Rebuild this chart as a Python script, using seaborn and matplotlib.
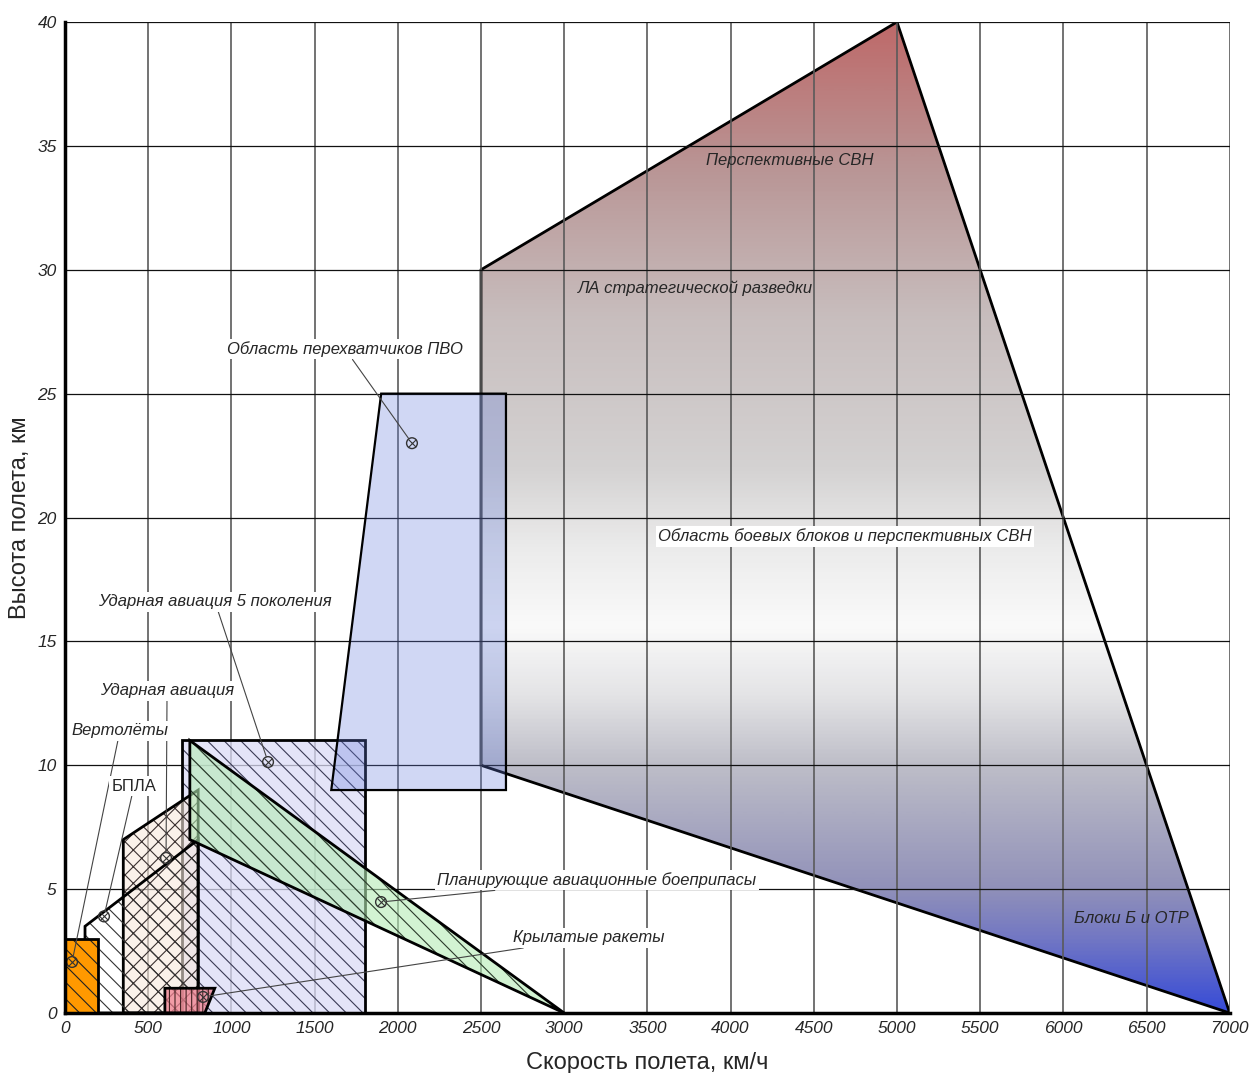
import matplotlib
matplotlib.use("Agg")
import matplotlib.pyplot as plt
import seaborn as sns
import numpy as np
import pandas as pd
from matplotlib.patches import Polygon
from matplotlib.colors import LinearSegmentedColormap

sns.set_style("white")
plt.rcParams["font.family"] = ["Liberation Sans", "DejaVu Sans"]
plt.rcParams["hatch.linewidth"] = 0.8

# polygons: (speed km/h, altitude km)
svn_x = [2500, 2500, 5000, 7000]
svn_y = [10, 30, 40, 0]
pvo_x = [1600, 1900, 2650, 2650]
pvo_y = [9, 25, 25, 9]
strike5_x = [700, 700, 1800, 1800]
strike5_y = [0, 11, 11, 0]
strike_x = [350, 350, 800, 800]
strike_y = [0, 7, 9, 0]
uav_x = [120, 120, 800, 800]
uav_y = [0, 3.5, 7, 0]
glide_x = [750, 3000, 750]
glide_y = [11, 0, 7]
heli_x = [0, 0, 200, 200]
heli_y = [0, 3, 3, 0]
cruise_x = [600, 600, 900, 840]
cruise_y = [0, 1, 1, 0]

# labels and their pointer targets
labels = ["Перспективные СВН", "ЛА стратегической разведки",
          "Область перехватчиков ПВО", "Область боевых блоков и перспективных СВН",
          "Ударная авиация 5 поколения", "Ударная авиация", "Вертолёты", "БПЛА",
          "Планирующие авиационные боеприпасы", "Крылатые ракеты", "Блоки Б и ОТР"]
label_x = [4357, 3786, 1683, 4688, 901, 613, 330, 415, 2236, 2692, 6406]
label_y = [34.4, 29.26, 26.8, 19.25, 16.6, 13.0, 11.4, 9.16, 5.37, 3.03, 3.83]
target_x = [None, None, 2085, None, 1220, 607, 42, 234, 1899, 829, None]
target_y = [None, None, 23.0, None, 10.13, 6.26, 2.06, 3.9, 4.48, 0.65, None]

fig = plt.figure(figsize=(12.51, 10.73), dpi=100)
ax = fig.add_axes([0.052, 0.0559, 0.931, 0.9236])

# gradient area
cmap = LinearSegmentedColormap.from_list("svn", [
    (0.0, (55/255, 75/255, 215/255)),
    (0.075, (115/255, 120/255, 195/255)),
    (0.125, (145/255, 145/255, 185/255)),
    (0.25, (190/255, 190/255, 200/255)),
    (0.32, (228/255, 228/255, 230/255)),
    (0.39, (250/255, 250/255, 250/255)),
    (0.47, (235/255, 235/255, 235/255)),
    (0.55, (212/255, 210/255, 210/255)),
    (0.7, (200/255, 190/255, 190/255)),
    (0.85, (185/255, 150/255, 150/255)),
    (1.0, (190/255, 105/255, 105/255)),
])
svn_poly = Polygon(np.column_stack([svn_x, svn_y]), closed=True, fc="none",
                   ec="black", lw=2, zorder=1.2)
ax.add_patch(svn_poly)
grad = np.linspace(0, 1, 512).reshape(-1, 1)
im = ax.imshow(grad, extent=[0, 7000, 0, 40], origin="lower", aspect="auto",
               cmap=cmap, zorder=1, interpolation="bilinear")
im.set_clip_path(svn_poly)


def region(xs, ys, fc, alpha, hatch=None, hatch_color="#333344", z=2, lw=2):
    pts = np.column_stack([xs, ys])
    ax.add_patch(Polygon(pts, closed=True, fc=fc, alpha=alpha, ec="none", zorder=z))
    if hatch:
        ax.add_patch(Polygon(pts, closed=True, fc="none", ec=hatch_color, lw=0,
                             hatch=hatch, zorder=z + 0.01))
    ax.add_patch(Polygon(pts, closed=True, fc="none", ec="black", lw=lw, zorder=z + 0.02))


region(strike5_x, strike5_y, "#dcdcf6", 0.75, "\\\\", "#3a3a55", z=2.0)
region(pvo_x, pvo_y, "#647ddc", 0.3, None, z=2.1, lw=1.6)
region(strike_x, strike_y, "#f7e8dc", 0.6, "xx", "#3a3030", z=2.2)
region(uav_x, uav_y, "white", 0.0, "\\\\", "#333333", z=2.3)
region(glide_x, glide_y, "#b4ebb4", 0.6, "\\\\", "#2a3a2a", z=2.4)
region(heli_x, heli_y, "#ff9900", 1.0, "\\\\", "#222222", z=2.5)
region(cruise_x, cruise_y, "#ee8090", 0.75, "|||", "#442222", z=2.6)

# pointer targets
tdf = pd.DataFrame({"x": target_x, "y": target_y}).dropna()
sns.scatterplot(data=tdf, x="x", y="y", marker="o", s=60, facecolor="none",
                edgecolor="#333333", linewidth=1.0, ax=ax, zorder=4)
sns.scatterplot(data=tdf, x="x", y="y", marker="x", s=30, color="#333333",
                linewidth=0.8, ax=ax, zorder=4)

boxed = {"Область перехватчиков ПВО", "Область боевых блоков и перспективных СВН",
         "Ударная авиация 5 поколения", "Ударная авиация", "Вертолёты", "БПЛА",
         "Планирующие авиационные боеприпасы", "Крылатые ракеты"}
left_aligned = {"Планирующие авиационные боеприпасы", "Крылатые ракеты"}

for lab, lx, ly, tx, ty in zip(labels, label_x, label_y, target_x, target_y):
    style = "normal" if lab == "БПЛА" else "italic"
    ha = "left" if lab in left_aligned else "center"
    bbox = dict(boxstyle="square,pad=0.15", fc="white", ec="none") if lab in boxed else None
    if tx is None:
        ax.text(lx, ly, lab, ha=ha, va="center", fontsize=12, style=style,
                bbox=bbox, zorder=5)
    else:
        ax.annotate(lab, xy=(tx, ty), xytext=(lx, ly), ha=ha, va="center",
                    fontsize=12, style=style, bbox=bbox, zorder=5,
                    arrowprops=dict(arrowstyle="-", color="#444444", lw=0.8,
                                    shrinkA=0, shrinkB=4))

ax.set_xlim(0, 7000)
ax.set_ylim(0, 40)
ax.set_xticks(np.arange(0, 7001, 500))
ax.set_yticks(np.arange(0, 41, 5))
ax.tick_params(length=0, labelsize=12.5, pad=6)
for t in ax.get_xticklabels() + ax.get_yticklabels():
    t.set_style("italic")

ax.grid(False)
for xv in np.arange(500, 7001, 500):
    ax.axvline(xv, color="#5a5a5a", lw=1.2, zorder=1.5)
for yv in np.arange(5, 41, 5):
    ax.axhline(yv, color="#111111", lw=0.9, zorder=1.5)

for side in ["top", "right"]:
    ax.spines[side].set_visible(False)
for side in ["left", "bottom"]:
    ax.spines[side].set_linewidth(2.5)
    ax.spines[side].set_color("black")
    ax.spines[side].set_zorder(6)

ax.set_xlabel("Скорость полета, км/ч", fontsize=17, labelpad=11)
ax.set_ylabel("Высота полета, км", fontsize=17, labelpad=5)

fig.savefig("out.png", dpi=100, facecolor="white")
